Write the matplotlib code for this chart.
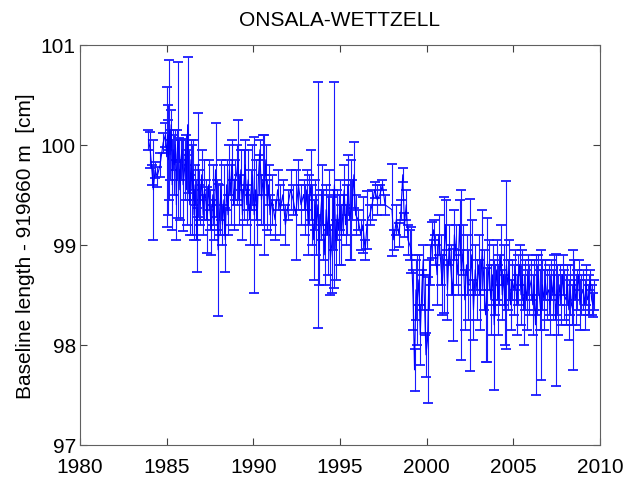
import matplotlib
matplotlib.use("Agg")
import matplotlib.pyplot as plt

# session epochs (decimal year), baseline length residual [cm], formal error [cm]
years = [
    1983.95, 1984.05, 1984.17, 1984.23, 1984.33, 1984.45, 1984.62, 1984.80, 1984.93,
    1985.00, 1985.06, 1985.10, 1985.15, 1985.20, 1985.26, 1985.32, 1985.38, 1985.44, 1985.50,
    1985.56, 1985.60, 1985.65, 1985.70, 1985.76, 1985.82, 1985.88, 1985.95,
    1986.03, 1986.09, 1986.15, 1986.21, 1986.27, 1986.33, 1986.40, 1986.46, 1986.52, 1986.58,
    1986.64, 1986.70, 1986.76, 1986.82, 1986.88, 1986.94,
    1987.02, 1987.10, 1987.18, 1987.26, 1987.34, 1987.42, 1987.50, 1987.58, 1987.66, 1987.74,
    1987.82, 1987.90, 1987.97,
    1988.06, 1988.14, 1988.22, 1988.30, 1988.38, 1988.46, 1988.54, 1988.62, 1988.70, 1988.78,
    1988.86, 1988.94,
    1989.03, 1989.12, 1989.20, 1989.28, 1989.37, 1989.45, 1989.53, 1989.62, 1989.70, 1989.78,
    1989.87, 1989.95,
    1990.05, 1990.13, 1990.22, 1990.30, 1990.38, 1990.47, 1990.55, 1990.63, 1990.72, 1990.80,
    1990.88, 1990.96,
    1991.08, 1991.25, 1991.40, 1991.55, 1991.70, 1991.85, 1992.00, 1992.15, 1992.30, 1992.45,
    1992.60, 1992.75, 1992.90,
    1993.00, 1993.08, 1993.16, 1993.24, 1993.32, 1993.40, 1993.48, 1993.56, 1993.64, 1993.72,
    1993.80, 1993.88, 1993.96,
    1994.04, 1994.12, 1994.20, 1994.28, 1994.36, 1994.44, 1994.52, 1994.60, 1994.68, 1994.76,
    1994.84, 1994.92,
    1995.00, 1995.08, 1995.16, 1995.24, 1995.32, 1995.40, 1995.48, 1995.56, 1995.64, 1995.72,
    1995.80, 1995.90,
    1996.05, 1996.20, 1996.32, 1996.45, 1996.58, 1996.72, 1996.85, 1997.00, 1997.15, 1997.30,
    1997.45, 1997.60, 1998.00, 1998.10, 1998.25, 1998.40,
    1998.52, 1998.62, 1998.72, 1998.82, 1998.92,
    1999.02, 1999.12, 1999.22, 1999.30, 1999.38, 1999.46, 1999.55, 1999.63, 1999.72, 1999.80,
    1999.88, 1999.96,
    2000.05, 2000.12, 2000.20, 2000.30, 2000.40, 2000.50, 2000.60, 2000.70, 2000.80, 2000.90,
    2001.00, 2001.10, 2001.20, 2001.30, 2001.40, 2001.50, 2001.60, 2001.70, 2001.80, 2001.90,
    2002.00, 2002.10, 2002.20, 2002.30, 2002.40, 2002.50, 2002.60, 2002.70, 2002.80, 2002.90,
    2003.00, 2003.10, 2003.20, 2003.30, 2003.40, 2003.50, 2003.60, 2003.70, 2003.80, 2003.90,
    2003.96,
    2004.04, 2004.12, 2004.20, 2004.28, 2004.36, 2004.44, 2004.52, 2004.60, 2004.68, 2004.76,
    2004.84, 2004.92,
    2005.04, 2005.12, 2005.20, 2005.28, 2005.36, 2005.44, 2005.52, 2005.60, 2005.68, 2005.76,
    2005.84, 2005.92,
    2006.04, 2006.12, 2006.20, 2006.28, 2006.36, 2006.44, 2006.52, 2006.60, 2006.68, 2006.76,
    2006.84, 2006.92,
    2007.04, 2007.12, 2007.20, 2007.28, 2007.36, 2007.44, 2007.52, 2007.60, 2007.68, 2007.76,
    2007.84, 2007.92,
    2008.04, 2008.12, 2008.20, 2008.28, 2008.36, 2008.44, 2008.52, 2008.60, 2008.68, 2008.76,
    2008.84, 2008.92,
    2009.04, 2009.12, 2009.20, 2009.28, 2009.36, 2009.44, 2009.52, 2009.60, 2009.68,
]

length = [
    100.05, 99.95, 99.70, 99.55, 99.75, 99.68, 99.80, 100.02, 100.10,
    99.88, 100.10, 99.85, 100.15, 99.90, 100.20, 99.60, 99.95, 99.80, 100.00,
    99.40, 99.90, 100.05, 99.95, 99.55, 99.85, 99.95, 99.60,
    99.75, 99.95, 99.55, 100.20, 99.70, 99.40, 99.85, 99.55, 99.75, 99.30,
    99.60, 99.35, 99.05, 99.80, 99.50, 99.40,
    99.70, 99.30, 99.55, 99.45, 99.25, 99.60, 99.35, 99.15, 99.50, 99.25,
    99.75, 99.40, 98.95,
    99.35, 99.55, 99.20, 99.45, 99.05, 99.60, 99.30, 99.75, 99.50, 99.85,
    99.40, 99.65,
    99.70, 99.85, 99.45, 99.75, 99.30, 99.60, 99.80, 99.40, 99.65, 99.25,
    99.55, 99.70,
    99.30, 99.55, 99.25, 99.70, 99.95, 99.45, 99.65, 99.50, 99.85, 99.40,
    99.60, 99.30,
    99.45, 99.25, 99.55, 99.35, 99.50, 99.20, 99.40, 99.55, 99.45, 99.30,
    99.60, 99.40, 99.50,
    99.35, 99.55, 99.20, 99.45, 99.60, 99.30, 99.05, 99.40, 99.20, 99.40,
    98.95, 99.30, 99.50,
    99.20, 98.90, 99.35, 99.10, 99.45, 98.85, 99.00, 99.25, 99.60, 98.95,
    99.30, 99.15,
    99.40, 99.10, 99.30, 99.55, 99.20, 99.35, 99.60, 99.25, 99.35, 99.45,
    99.70, 99.30,
    99.25, 99.10, 99.20, 98.95, 99.25, 99.30, 99.40, 99.55, 99.45, 99.50,
    99.60, 99.40, 99.35, 99.05, 99.25, 99.10,
    99.35, 99.70, 99.20, 99.40, 99.05,
    99.00, 98.95, 98.45, 97.75, 98.55, 98.45, 98.65, 98.10, 98.55, 98.85,
    98.40, 97.90,
    98.05, 98.60, 98.80, 99.05, 99.15, 98.95, 98.70, 99.10, 98.85, 98.60,
    98.90, 99.20, 98.55, 99.00, 98.75, 98.50, 99.10, 98.90, 98.70, 99.20,
    98.70, 98.95, 98.45, 98.80, 98.60, 98.60, 98.90, 98.35, 98.75, 98.55,
    98.80, 98.50, 98.95, 98.65, 98.30, 98.55, 98.80, 98.45, 98.70, 98.20,
    98.55,
    98.75, 98.45, 98.65, 98.90, 98.50, 98.70, 98.35, 98.80, 98.60, 98.75,
    98.40, 98.65,
    98.55, 98.75, 98.40, 98.65, 98.80, 98.50, 98.70, 98.35, 98.60, 98.45,
    98.70, 98.55,
    98.65, 98.40, 98.60, 98.20, 98.55, 98.70, 98.45, 98.30, 98.60, 98.45,
    98.65, 98.50,
    98.55, 98.40, 98.65, 98.50, 98.70, 98.25, 98.55, 98.40, 98.60, 98.45,
    98.70, 98.50,
    98.45, 98.60, 98.35, 98.55, 98.40, 98.35, 98.65, 98.45, 98.55, 98.70,
    98.40, 98.50,
    98.55, 98.40, 98.60, 98.45, 98.50, 98.65, 98.45, 98.40, 98.50,
]

sigma = [
    0.10, 0.18, 0.10, 0.50, 0.08, 0.10, 0.12, 0.10, 0.12,
    0.70, 0.15, 0.55, 0.70, 0.25, 0.15, 0.45, 0.20, 0.30, 0.15,
    0.35, 0.25, 0.78, 0.12, 0.30, 0.20, 0.10, 0.46,
    0.30, 0.15, 0.35, 0.68, 0.25, 0.30, 0.20, 0.45, 0.30, 0.25,
    0.20, 0.30, 0.32, 0.52, 0.25, 0.20,
    0.25, 0.20, 0.30, 0.20, 0.33, 0.25, 0.20, 0.25, 0.30, 0.20,
    0.47, 0.25, 0.66,
    0.25, 0.30, 0.20, 0.35, 0.32, 0.25, 0.20, 0.25, 0.30, 0.20,
    0.25, 0.20,
    0.30, 0.40, 0.25, 0.20, 0.25, 0.35, 0.25, 0.20, 0.30, 0.25,
    0.20, 0.30,
    0.78, 0.30, 0.25, 0.20, 0.10, 0.25, 0.45, 0.60, 0.15, 0.25,
    0.20, 0.20,
    0.25, 0.20, 0.20, 0.25, 0.15, 0.20, 0.15, 0.20, 0.15, 0.45,
    0.25, 0.20, 0.15,
    0.25, 0.20, 0.30, 0.25, 0.35, 0.30, 0.40, 0.25, 0.30, 1.23,
    0.35, 0.25, 0.30,
    0.35, 0.30, 0.25, 0.40, 0.30, 0.35, 0.48, 0.30, 1.03, 0.30,
    0.25, 0.35,
    0.25, 0.30, 0.20, 0.25, 0.20, 0.25, 0.30, 0.40, 0.50, 0.20,
    0.33, 0.20,
    0.10, 0.15, 0.28, 0.10, 0.29, 0.10, 0.15, 0.08, 0.15, 0.10,
    0.05, 0.10, 0.46, 0.10, 0.15, 0.12,
    0.10, 0.07, 0.12, 0.15, 0.15,
    0.15, 0.23, 0.30, 0.21, 0.30, 0.45, 0.25, 0.30, 0.20, 0.15,
    0.30, 0.22,
    0.63, 0.25, 0.20, 0.18, 0.10, 0.15, 0.30, 0.20, 0.25, 0.30,
    0.58, 0.25, 0.30, 0.20, 0.25, 0.46, 0.25, 0.30, 0.20, 0.25,
    0.85, 0.25, 0.30, 0.30, 0.35, 0.86, 0.35, 0.30, 0.25, 0.30,
    0.30, 0.35, 0.40, 0.30, 0.47, 0.72, 0.25, 0.35, 0.30, 0.65,
    0.25,
    0.30, 0.35, 0.25, 0.30, 0.25, 0.30, 0.35, 0.84, 0.25, 0.30,
    0.25, 0.20,
    0.25, 0.20, 0.30, 0.25, 0.20, 0.30, 0.25, 0.35, 0.25, 0.30,
    0.20, 0.25,
    0.20, 0.30, 0.25, 0.70, 0.25, 0.20, 0.30, 0.65, 0.25, 0.30,
    0.20, 0.25,
    0.25, 0.30, 0.20, 0.25, 0.20, 0.66, 0.25, 0.30, 0.20, 0.25,
    0.20, 0.25,
    0.25, 0.20, 0.30, 0.25, 0.20, 0.60, 0.20, 0.25, 0.20, 0.15,
    0.25, 0.20,
    0.20, 0.25, 0.20, 0.15, 0.20, 0.10, 0.15, 0.12, 0.15,
]

x_ticks = [1980, 1985, 1990, 1995, 2000, 2005, 2010]
y_ticks = [97, 98, 99, 100, 101]

plt.rcParams['font.family'] = ['Liberation Sans', 'DejaVu Sans']

fig = plt.figure(figsize=(6.25, 4.81), dpi=100)
ax = fig.add_axes([0.128, 0.073, 0.832, 0.832])

ax.errorbar(years, length, yerr=sigma, color='#0000ff', ecolor='#1a1aff',
            lw=0.8, elinewidth=0.8, capsize=3.4, capthick=1.3)

ax.set_xlim(1980, 2010)
ax.set_ylim(97, 101)
ax.set_xticks(x_ticks)
ax.set_yticks(y_ticks)
ax.tick_params(direction='in', top=True, right=True, labelsize=15, length=5,
               color='#404040')
ax.tick_params(axis='x', pad=9)
ax.tick_params(axis='y', pad=3)
for s in ax.spines.values():
    s.set_color('#606060')

ax.set_title('ONSALA-WETTZELL', fontsize=15, pad=14)
ax.set_ylabel('Baseline length - 919660 m  [cm]', fontsize=15, labelpad=4)

fig.savefig('out.png', dpi=100)
